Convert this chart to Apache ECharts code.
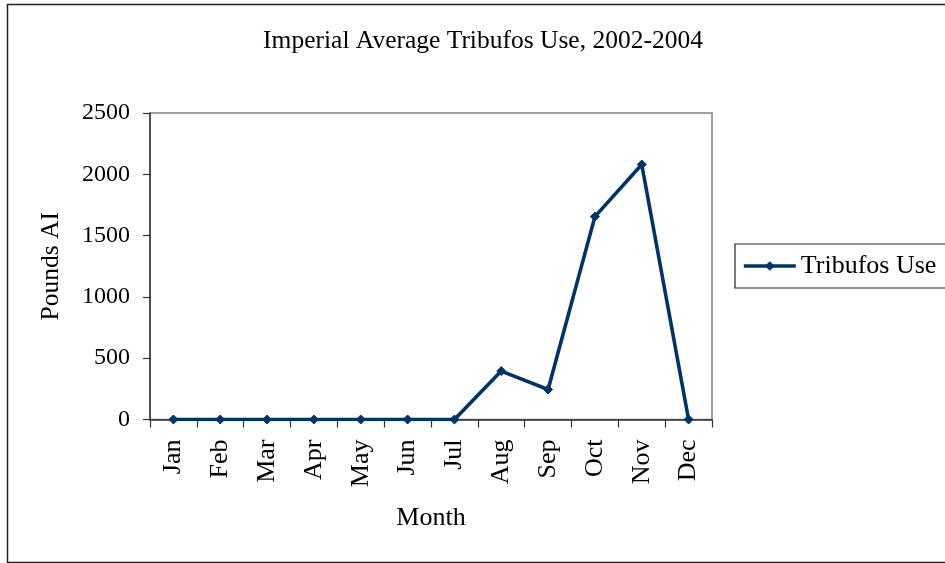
<!DOCTYPE html>
<html>
<head>
<meta charset="utf-8">
<script src="https://cdn.jsdelivr.net/npm/echarts@6/dist/echarts.min.js"></script>
<style>
  html, body { margin: 0; padding: 0; background: #fff; }
  #chart { width: 945px; height: 563px; }
</style>
</head>
<body>
<div id="chart"></div>
<script>
// Monthly average tribufos use in Imperial County, 2002-2004 (pounds of active ingredient)
const months = ['Jan', 'Feb', 'Mar', 'Apr', 'May', 'Jun', 'Jul', 'Aug', 'Sep', 'Oct', 'Nov', 'Dec'];
const tribufosUse = [0, 0, 0, 0, 0, 0, 0, 395, 245, 1655, 2080, 0];
const yTicks = { min: 0, max: 2500, interval: 500 };

const serif = '"Liberation Serif", "DejaVu Serif", serif';
const lineColor = '#003366';

const chart = echarts.init(document.getElementById('chart'), null, { renderer: 'canvas' });

chart.setOption({
  backgroundColor: '#ffffff',
  animation: false,
  textStyle: { fontFamily: serif, color: '#000' },
  graphic: [{
    type: 'rect',
    left: 5, top: 2,
    shape: { width: 960, height: 558 },
    style: { fill: 'none', stroke: '#222', lineWidth: 1.5 },
    z: -1
  }],
  title: {
    text: 'Imperial Average Tribufos Use, 2002-2004',
    left: 478, top: 23, textAlign: 'center',
    textStyle: { fontFamily: serif, fontSize: 25.5, fontWeight: 'normal', color: '#000' }
  },
  legend: {
    left: 735, top: 244,
    orient: 'vertical',
    padding: [9, 20, 9, 7],
    borderColor: '#222', borderWidth: 1.2,
    itemWidth: 52, itemHeight: 12, itemGap: 6,
    lineStyle: { color: lineColor, width: 3.6 },
    itemStyle: { color: lineColor },
    textStyle: { fontFamily: serif, fontSize: 26, color: '#000' },
    data: ['Tribufos Use']
  },
  grid: {
    left: 150, right: 233, top: 113, bottom: 143.5,
    show: true, borderColor: '#808080', borderWidth: 1.5,
    containLabel: false
  },
  xAxis: {
    type: 'category',
    data: months,
    boundaryGap: true,
    name: 'Month',
    nameLocation: 'middle',
    nameGap: 86,
    nameTextStyle: { fontFamily: serif, fontSize: 26, color: '#000' },
    axisLine: { lineStyle: { color: '#333', width: 1.5 } },
    axisTick: { show: true, length: 8, inside: false, lineStyle: { color: '#333', width: 1.2 } },
    axisLabel: { rotate: 90, margin: 20, fontFamily: serif, fontSize: 26, color: '#000', interval: 0 },
    splitLine: { show: false }
  },
  yAxis: {
    type: 'value',
    min: yTicks.min, max: yTicks.max, interval: yTicks.interval,
    name: 'Pounds AI',
    nameLocation: 'middle',
    nameRotate: 90,
    nameGap: 86,
    nameTextStyle: { fontFamily: serif, fontSize: 25.5, color: '#000' },
    axisLine: { show: true, lineStyle: { color: '#333', width: 1.5 } },
    axisTick: { show: true, length: 7, inside: false, lineStyle: { color: '#333', width: 1.2 } },
    axisLabel: {
      margin: 20, fontFamily: serif, fontSize: 24, color: '#000',
      formatter: (v) => String(v)
    },
    splitLine: { show: false }
  },
  series: [{
    name: 'Tribufos Use',
    type: 'line',
    data: tribufosUse,
    symbol: 'diamond',
    symbolSize: 9,
    showAllSymbol: true,
    lineStyle: { color: lineColor, width: 3.6 },
    itemStyle: { color: lineColor, borderColor: lineColor },
    z: 3
  }]
});
</script>
</body>
</html>
